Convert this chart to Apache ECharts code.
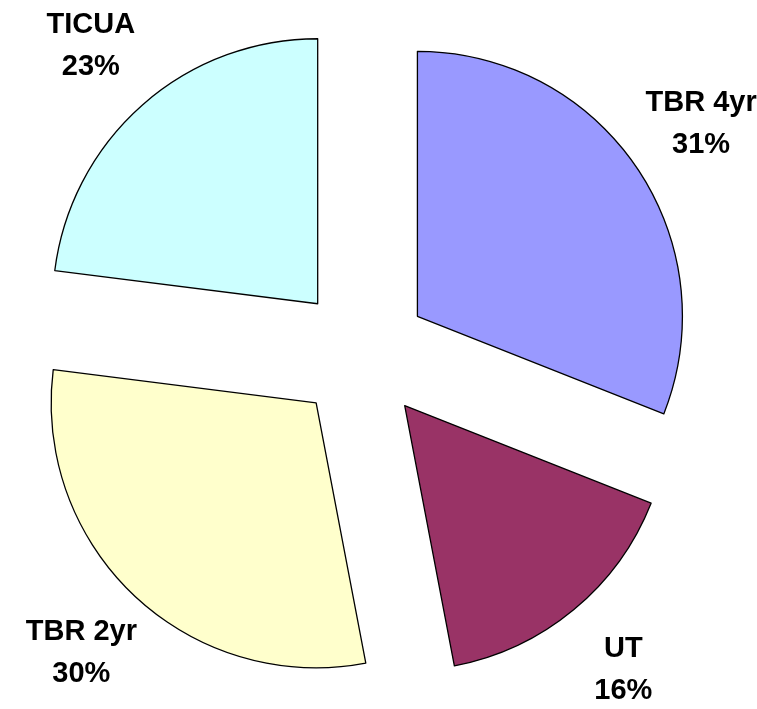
<!DOCTYPE html>
<html>
<head>
<meta charset="utf-8">
<script src="https://cdn.jsdelivr.net/npm/echarts@6/dist/echarts.min.js"></script>
<style>
  html, body { margin: 0; padding: 0; background: #fff; }
  #chart { width: 757px; height: 709px; }
</style>
</head>
<body>
<div id="chart"></div>
<script>
// slices, clockwise from 12 o'clock
const categories = ["TBR 4yr", "UT", "TBR 2yr", "TICUA"];
const shares = [31, 16, 30, 23];
const sliceColors = ["#9999FF", "#993366", "#FFFFCC", "#CCFFFF"];

const chart = echarts.init(document.getElementById("chart"));

const data = categories.map(function (name, i) {
  return {
    name: name,
    value: shares[i],
    selected: true,
    itemStyle: { color: sliceColors[i] }
  };
});

chart.setOption({
  animation: false,
  series: [
    {
      type: "pie",
      center: [362, 354],
      radius: 265,
      startAngle: 90,
      clockwise: true,
      selectedMode: "multiple",
      selectedOffset: 67,
      avoidLabelOverlap: false,
      itemStyle: {
        borderColor: "#000",
        borderWidth: 1.3
      },
      label: {
        show: true,
        position: "outside",
        formatter: "{b}\n{d}%",
        fontFamily: "Arial, 'Liberation Sans', sans-serif",
        fontWeight: "bold",
        fontSize: 29,
        lineHeight: 42,
        color: "#000",
        width: 160,
        distanceToLabelLine: 0
      },
      labelLine: { show: false, length: 78, length2: 0 },
      labelLayout: function () {
        return { align: "center" };
      },
      emphasis: { disabled: true },
      select: { itemStyle: { borderColor: "#000", borderWidth: 1.3 } },
      data: data
    }
  ]
});
</script>
</body>
</html>
